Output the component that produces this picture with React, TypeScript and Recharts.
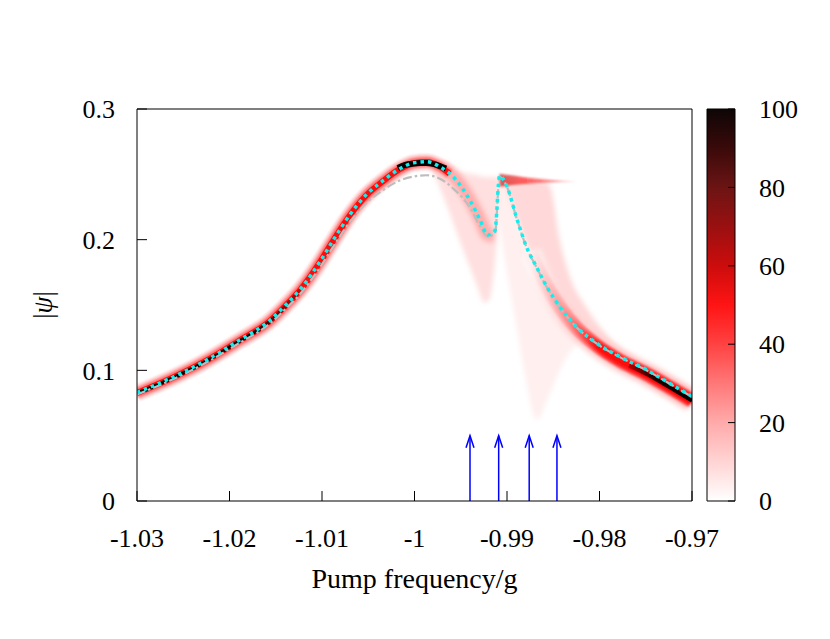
import React from "react";
import {
  Area,
  Bar,
  ComposedChart,
  Label,
  Line,
  ReferenceLine,
  Scatter,
  XAxis,
  YAxis,
} from "recharts";

const FONT = "'Liberation Serif', 'DejaVu Serif', serif";

const xTicks = [-1.03, -1.02, -1.01, -1.0, -0.99, -0.98, -0.97];
const xTickLabels = ["-1.03", "-1.02", "-1.01", "-1", "-0.99", "-0.98", "-0.97"];
const yTicks = [0, 0.1, 0.2, 0.3];
const yTickLabels = ["0", "0.1", "0.2", "0.3"];
const cbTicks = [0, 20, 40, 60, 80, 100];

// cyan dotted and grey dash-dot curves
const curveFreq = [-1.03, -1.0264, -1.0228, -1.0192, -1.0156, -1.014, -1.0123, -1.0102, -1.0088, -1.007, -1.0052, -1.0034, -1.0016, -1.0001, -0.9987, -0.9972, -0.9958, -0.994, -0.9929, -0.9921, -0.9913, -0.9908, -0.99, -0.989, -0.9879, -0.9868, -0.9857, -0.9843, -0.9825, -0.9803, -0.9778, -0.9749, -0.9724, -0.97];
const meanField = [0.083, 0.0939, 0.1066, 0.122, 0.1385, 0.1495, 0.1625, 0.1835, 0.1995, 0.219, 0.2345, 0.2452, 0.2542, 0.2588, 0.2597, 0.2555, 0.248, 0.23, 0.215, 0.2036, 0.207, 0.249, 0.2406, 0.2176, 0.1946, 0.179, 0.164, 0.1487, 0.1334, 0.1207, 0.1104, 0.1003, 0.09, 0.08];
const dashDot = [0.0815, 0.0922, 0.1048, 0.1198, 0.136, 0.1465, 0.159, 0.179, 0.1945, 0.2135, 0.228, 0.238, 0.2452, 0.2483, 0.2493, 0.2465, 0.239, 0.2245, 0.21, 0.2025, 0.2045, 0.248, 0.2403, 0.2173, 0.1943, 0.1787, 0.1637, 0.1484, 0.1331, 0.1204, 0.1101, 0.1, 0.0897, 0.0797];

// density ridge (left branch up to the peak)
const ridgeLeftFreq = [-1.03, -1.0264, -1.0228, -1.0192, -1.0156, -1.014, -1.0123, -1.0102, -1.0088, -1.007, -1.0052, -1.0034, -1.0016, -1.0001, -0.9987, -0.9972, -0.9962];
const ridgeLeftVal = [0.0826, 0.0935, 0.1062, 0.1215, 0.138, 0.149, 0.162, 0.183, 0.199, 0.2185, 0.234, 0.2448, 0.2539, 0.2585, 0.2594, 0.2556, 0.2505];
const coreLeftFreq = [-1.03, -1.0264, -1.0228, -1.0192, -1.0156, -1.014, -1.0123];
const coreLeftVal = [0.0824, 0.0933, 0.106, 0.1212, 0.1377, 0.1487, 0.1617];
const corePeakFreq = [-1.0018, -1.001, -1.0001, -0.9994, -0.9987, -0.998, -0.9972, -0.9966];
const corePeakVal = [0.2548, 0.2572, 0.2582, 0.2586, 0.2586, 0.258, 0.2562, 0.2545];

// falling part towards the dip
const fallFreq = [-0.9972, -0.9958, -0.994, -0.9929, -0.9921, -0.9914];
const fallVal = [0.2555, 0.2485, 0.2305, 0.2155, 0.204, 0.203];
const dipFanFreq = [-0.9983, -0.9965, -0.995, -0.9938, -0.993, -0.9925, -0.992, -0.9915, -0.9911, -0.9908];
const dipFanLow = [0.258, 0.226, 0.197, 0.175, 0.16, 0.152, 0.153, 0.17, 0.2, 0.23];
const dipFanHigh = [0.2595, 0.256, 0.252, 0.25, 0.249, 0.248, 0.248, 0.248, 0.248, 0.248];

// faint wide fan below the upper branch
const wideFanFreq = [-0.9908, -0.99, -0.989, -0.988, -0.9868, -0.9855, -0.9843, -0.983, -0.981];
const wideFanLow = [0.21, 0.175, 0.135, 0.095, 0.062, 0.08, 0.1, 0.116, 0.124];
const wideFanHigh = [0.248, 0.2406, 0.2176, 0.195, 0.179, 0.162, 0.1487, 0.138, 0.126];

// pink region above the right branch
const rightPinkFreq = [-0.9905, -0.989, -0.9875, -0.986, -0.9853, -0.9843, -0.9832, -0.9814, -0.9792, -0.976];
const rightPinkLow = [0.246, 0.2176, 0.19, 0.17, 0.162, 0.1487, 0.139, 0.126, 0.1155, 0.1035];
const rightPinkHigh = [0.2485, 0.246, 0.2455, 0.245, 0.24, 0.2, 0.172, 0.148, 0.127, 0.108];

// upper flat branch
const branchFreq = [-0.9908, -0.9898, -0.9885, -0.987, -0.9855, -0.984, -0.9826];
const branchLow = [0.2405, 0.2415, 0.2425, 0.2432, 0.2438, 0.2442, 0.2444];
const branchHigh = [0.2505, 0.2495, 0.2482, 0.2468, 0.2458, 0.2451, 0.2446];

// right descending branch
const ridgeRightFreq = [-0.9875, -0.9868, -0.9857, -0.9843, -0.9825, -0.9803, -0.9778, -0.9749, -0.9724, -0.97];
const ridgeRightVal = [0.19, 0.1795, 0.1645, 0.1485, 0.1325, 0.119, 0.1075, 0.0972, 0.087, 0.0768];
const coreRightFreq = [-0.9768, -0.9749, -0.9724, -0.97];
const coreRightVal = [0.1038, 0.0972, 0.087, 0.0768];

// arrows
const arrowFreq = [-0.994, -0.9909, -0.9876, -0.9846];
const arrowTip = 0.05;

const rows = (f: number[], v: number[]) => f.map((x, i) => ({ f: x, v: v[i] }));
const bands = (f: number[], lo: number[], hi: number[]) => f.map((x, i) => ({ f: x, r: [lo[i], hi[i]] }));

const curveRows = curveFreq.map((f, i) => ({ f, mf: meanField[i], dd: dashDot[i] }));
const arrowRows = arrowFreq.map((f) => ({ f, y: arrowTip }));
const colorbarData = [{ name: "palette", value: cbTicks[cbTicks.length - 1] }];
const colorbarSpan = [cbTicks[0], cbTicks[cbTicks.length - 1]].map((v) => ({ name: "palette", value: v }));

const labelOf = (ticks: number[], labels: string[]) => (v: number) => {
  const i = ticks.findIndex((t) => Math.abs(t - v) < 1e-9);
  return i >= 0 ? labels[i] : String(v);
};

const tickStyle = { fill: "#000", fontSize: 26, fontFamily: FONT };
const ax = { xAxisId: "b", yAxisId: "l" };
const noDot = { dot: false, activeDot: false, isAnimationActive: false };

const ArrowHead = (props: any) => {
  const { cx, cy } = props;
  return (
    <path
      d={`M${cx - 4},${cy + 12} L${cx},${cy} L${cx + 4},${cy + 12}`}
      stroke="#0000ff"
      strokeWidth={1.5}
      fill="none"
    />
  );
};

const YTitle = (props: any) => {
  const vb = props.viewBox;
  const cx = vb.x + vb.width - 94;
  const cy = vb.y + vb.height / 2;
  return (
    <text
      x={cx}
      y={cy}
      transform={`rotate(-90 ${cx} ${cy})`}
      textAnchor="middle"
      dominantBaseline="central"
      fontSize={27}
      fontFamily={FONT}
      fill="#000"
    >
      |<tspan fontStyle="italic">ψ</tspan>|
    </text>
  );
};

export default function App() {
  return (
    <div style={{ position: "absolute", left: 0, top: 0, width: 830, height: 639, background: "#fff" }}>
      <div style={{ position: "absolute", left: 0, top: 0 }}>
        <ComposedChart width={830} height={639} margin={{ top: 108, right: 137, bottom: 137, left: 136 }}>
          <defs>
            <filter id="soft" x="-20%" y="-20%" width="140%" height="140%">
              <feGaussianBlur stdDeviation="1.3" />
            </filter>
            <filter id="softer" x="-20%" y="-20%" width="140%" height="140%">
              <feGaussianBlur stdDeviation="2.5" />
            </filter>
            <linearGradient id="branchGrad" x1="0" y1="0" x2="1" y2="0">
              <stop offset="0%" stopColor="#b80000" />
              <stop offset="30%" stopColor="#ff0000" />
              <stop offset="70%" stopColor="#ff4a4a" />
              <stop offset="100%" stopColor="#ffc0c0" />
            </linearGradient>
            <linearGradient id="rHalo" x1="0" y1="0" x2="1" y2="0">
              <stop offset="0%" stopColor="#fff4f4" />
              <stop offset="20%" stopColor="#ffd6d6" />
              <stop offset="100%" stopColor="#ffbcbc" />
            </linearGradient>
            <linearGradient id="rMid" x1="0" y1="0" x2="1" y2="0">
              <stop offset="0%" stopColor="#fff0f0" />
              <stop offset="25%" stopColor="#ff9a9a" />
              <stop offset="45%" stopColor="#ff4444" />
              <stop offset="100%" stopColor="#ff3030" />
            </linearGradient>
            <linearGradient id="rRed" x1="0" y1="0" x2="1" y2="0">
              <stop offset="0%" stopColor="#fff0f0" />
              <stop offset="25%" stopColor="#ff8080" />
              <stop offset="42%" stopColor="#ff0a0a" />
              <stop offset="100%" stopColor="#f00000" />
            </linearGradient>
            <linearGradient id="rCore" x1="0" y1="0" x2="1" y2="0">
              <stop offset="0%" stopColor="#b00000" />
              <stop offset="40%" stopColor="#200000" />
              <stop offset="100%" stopColor="#000000" />
            </linearGradient>
            <linearGradient id="lCore" x1="0" y1="0" x2="1" y2="0">
              <stop offset="0%" stopColor="#000000" />
              <stop offset="70%" stopColor="#100000" />
              <stop offset="100%" stopColor="#d00000" />
            </linearGradient>
          </defs>

          <XAxis
            xAxisId="b"
            dataKey="f"
            type="number"
            domain={[-1.03, -0.97]}
            ticks={xTicks}
            interval={0}
            allowDataOverflow
            height={1}
            stroke="#000"
            tickSize={-10}
            tickMargin={38}
            tick={tickStyle}
            tickFormatter={labelOf(xTicks, xTickLabels)}
          >
            <Label
              value="Pump frequency/g"
              position="bottom"
              offset={66}
              style={{ fill: "#000", fontSize: 28, fontFamily: FONT }}
            />
          </XAxis>
          <XAxis
            xAxisId="t"
            orientation="top"
            dataKey="f"
            type="number"
            domain={[-1.03, -0.97]}
            ticks={xTicks}
            interval={0}
            allowDataOverflow
            height={1}
            stroke="#000"
            tickSize={-10}
            tick={false}
          />
          <YAxis
            yAxisId="l"
            type="number"
            domain={[0, 0.3]}
            ticks={yTicks}
            interval={0}
            allowDataOverflow
            width={1}
            stroke="#000"
            tickSize={-10}
            tickMargin={32}
            tick={tickStyle}
            tickFormatter={labelOf(yTicks, yTickLabels)}
          >
            <Label content={YTitle} />
          </YAxis>
          <YAxis
            yAxisId="r"
            orientation="right"
            type="number"
            domain={[0, 0.3]}
            ticks={yTicks}
            interval={0}
            allowDataOverflow
            width={1}
            stroke="#000"
            tickSize={-10}
            tick={false}
          />

          {/* keeps the mirrored top/right axes bound to the same data */}
          <Line xAxisId="t" yAxisId="r" data={curveRows} dataKey="mf" stroke="none" {...noDot} />

          {/* faint density regions */}
          <Area {...ax} data={bands(wideFanFreq, wideFanLow, wideFanHigh)} dataKey="r" type="monotone" stroke="none" fill="#ffe8e8" fillOpacity={0.7} filter="url(#softer)" isAnimationActive={false} />
          <Area {...ax} data={bands(dipFanFreq, dipFanLow, dipFanHigh)} dataKey="r" type="monotone" stroke="none" fill="#ffd2d2" fillOpacity={0.7} filter="url(#softer)" isAnimationActive={false} />
          <Area {...ax} data={bands(rightPinkFreq, rightPinkLow, rightPinkHigh)} dataKey="r" type="monotone" stroke="none" fill="#ffc4c4" fillOpacity={0.65} filter="url(#softer)" isAnimationActive={false} />
          <Area {...ax} data={bands(branchFreq, branchLow, branchHigh)} dataKey="r" type="monotone" stroke="none" fill="url(#branchGrad)" filter="url(#soft)" isAnimationActive={false} />

          {/* falling band */}
          <Line {...ax} data={rows(fallFreq, fallVal)} dataKey="v" type="monotone" stroke="#ffa0a0" strokeOpacity={0.8} strokeWidth={13} filter="url(#softer)" {...noDot} />

          {/* left ridge */}
          <Line {...ax} data={rows(ridgeLeftFreq, ridgeLeftVal)} dataKey="v" type="monotone" stroke="#ffcccc" strokeWidth={16} filter="url(#soft)" {...noDot} />
          <Line {...ax} data={rows(ridgeLeftFreq, ridgeLeftVal)} dataKey="v" type="monotone" stroke="#ff6a6a" strokeWidth={10} filter="url(#soft)" {...noDot} />
          <Line {...ax} data={rows(ridgeLeftFreq, ridgeLeftVal)} dataKey="v" type="monotone" stroke="#ff0a0a" strokeWidth={6} {...noDot} />
          <Line {...ax} data={rows(coreLeftFreq, coreLeftVal)} dataKey="v" type="monotone" stroke="url(#lCore)" strokeWidth={3.5} {...noDot} />
          <Line {...ax} data={rows(corePeakFreq, corePeakVal)} dataKey="v" type="monotone" stroke="#000" strokeWidth={6} {...noDot} />

          {/* right ridge */}
          <Line {...ax} data={rows(ridgeRightFreq, ridgeRightVal)} dataKey="v" type="monotone" stroke="url(#rHalo)" strokeWidth={22} filter="url(#softer)" {...noDot} />
          <Line {...ax} data={rows(ridgeRightFreq, ridgeRightVal)} dataKey="v" type="monotone" stroke="url(#rMid)" strokeWidth={14} filter="url(#soft)" {...noDot} />
          <Line {...ax} data={rows(ridgeRightFreq, ridgeRightVal)} dataKey="v" type="monotone" stroke="url(#rRed)" strokeWidth={8} filter="url(#soft)" {...noDot} />
          <Line {...ax} data={rows(coreRightFreq, coreRightVal)} dataKey="v" type="monotone" stroke="url(#rCore)" strokeWidth={4} {...noDot} />

          {/* curves */}
          <Line {...ax} data={curveRows} dataKey="dd" type="monotone" stroke="#bdbdbd" strokeWidth={2.2} strokeDasharray="9 3 2.5 3" {...noDot} />
          <Line {...ax} data={curveRows} dataKey="mf" type="monotone" stroke="#10eeee" strokeWidth={3.5} strokeDasharray="3.5 4" {...noDot} />

          {/* arrows */}
          {arrowFreq.map((f) => (
            <ReferenceLine
              key={f}
              {...ax}
              segment={[{ x: f, y: 0 }, { x: f, y: arrowTip }]}
              stroke="#0000ff"
              strokeWidth={1.5}
              ifOverflow="visible"
            />
          ))}
          <Scatter {...ax} data={arrowRows} dataKey="y" shape={ArrowHead} isAnimationActive={false} />
        </ComposedChart>
      </div>

      <div style={{ position: "absolute", left: 0, top: 0 }}>
        <ComposedChart
          width={830}
          height={639}
          data={colorbarData}
          margin={{ top: 109, right: 94, bottom: 138, left: 706 }}
          barCategoryGap={0}
        >
          <defs>
            <linearGradient id="cbGrad" x1="0" y1="0" x2="0" y2="1">
              <stop offset="0%" stopColor="#0e0606" />
              <stop offset="10%" stopColor="#3a0a0a" />
              <stop offset="20%" stopColor="#6c1414" />
              <stop offset="30%" stopColor="#9a1010" />
              <stop offset="40%" stopColor="#cc0c0c" />
              <stop offset="50%" stopColor="#ff1414" />
              <stop offset="60%" stopColor="#ff4242" />
              <stop offset="70%" stopColor="#ff7878" />
              <stop offset="80%" stopColor="#ffaaaa" />
              <stop offset="90%" stopColor="#ffd4d4" />
              <stop offset="100%" stopColor="#ffffff" />
            </linearGradient>
          </defs>
          <XAxis dataKey="name" hide allowDuplicatedCategory={false} />
          <YAxis
            yAxisId="l"
            type="number"
            domain={[0, 100]}
            ticks={cbTicks}
            interval={0}
            width={1}
            axisLine={false}
            stroke="#000"
            tickSize={-7}
            tick={false}
          />
          <YAxis
            yAxisId="r"
            orientation="right"
            type="number"
            domain={[0, 100]}
            ticks={cbTicks}
            interval={0}
            width={1}
            axisLine={false}
            stroke="#000"
            tickSize={-7}
            tickMargin={31}
            tick={tickStyle}
          />
          <Bar yAxisId="r" dataKey="value" fill="url(#cbGrad)" stroke="#000" strokeWidth={1} isAnimationActive={false} />
          <Line yAxisId="l" data={colorbarSpan} dataKey="value" stroke="none" {...noDot} />
        </ComposedChart>
      </div>
    </div>
  );
}
